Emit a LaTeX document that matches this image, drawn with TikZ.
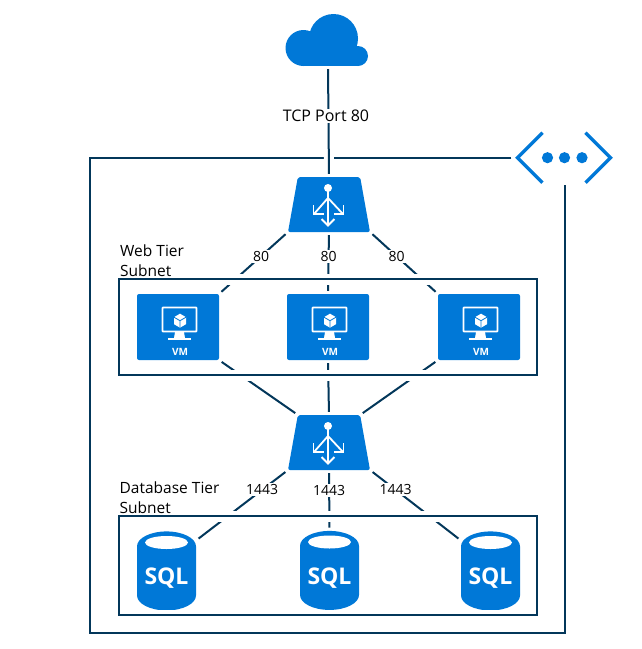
\documentclass[tikz,border=0pt]{standalone}
\usepackage{fontspec}
\setmainfont{Open Sans}
\usetikzlibrary{shapes.geometric}
\definecolor{azureblue}{HTML}{0078D7}
\definecolor{linkdark}{HTML}{03375A}
\tikzset{
  lbbox/.style={trapezium,trapezium stretches=true,trapezium left angle=81,trapezium right angle=81,
    minimum width=82pt,minimum height=55pt,inner sep=1pt,fill=azureblue,rounded corners=2pt},
  vmbox/.style={rectangle,minimum width=82pt,minimum height=66pt,inner sep=0pt,fill=azureblue,rounded corners=2pt},
  sqlbox/.style={cylinder,shape border rotate=90,aspect=.68,minimum width=59pt,minimum height=79pt,inner sep=0pt,
    fill=azureblue,text=white,font=\fontsize{23}{23}\selectfont\bfseries},
  sqlhole/.style={ellipse,fill=white,minimum width=43pt,minimum height=13pt,inner sep=0pt},
  subnetbox/.style={rectangle,draw=linkdark,line width=2pt,minimum width=418pt,inner sep=0pt,
    preaction={draw=white,line width=11pt}},
  tiertext/.style={align=left,anchor=north west,inner sep=0pt,font=\fontsize{15.5}{20}\selectfont},
  lbicon/.pic={
    \begin{scope}[white,line width=1.8pt]
      \fill (-1,-16.5) circle (4);
      \draw (-1,-16.5) -- (-1,21);
      \draw (-1,-6.5) -- (-15,9.5);
      \draw (-1,-6.5) -- (14,9.5);
      \draw (-15.5,.5) -- (-15.5,9.5) -- (-5.5,9.5);
      \draw (14.5,.5) -- (14.5,9.5) -- (4.5,9.5);
      \draw (-7.5,14.5) -- (-1,21) -- (5.5,14.5);
    \end{scope}
  },
  vmicon/.pic={
    \draw[white,line width=1.6pt,rounded corners=.5pt] (-15.5,-19.5) rectangle (18.5,4.5);
    \fill[white] (-3,5) -- (6,5) -- (7,11) -- (-4,11) -- cycle;
    \fill[white] (-10.5,10.5) rectangle (13,12.5);
    \fill[white] (2,-13.3) -- (8,-9.8) -- (8,-2.8) -- (2,.7) -- (-4,-2.8) -- (-4,-9.8) -- cycle;
    \draw[azureblue,line width=.8pt] (-4,-9.8) -- (2,-6.3) -- (8,-9.8) (2,-6.3) -- (2,.7);
    \node[text=white,inner sep=0pt,font=\fontsize{10}{10}\selectfont\bfseries] (-caption) at (2,25) {VM};
  },
  cloudicon/.pic={
    \fill[azureblue] (-24.5,8) circle (18) (5.5,-1.5) circle (24.5) (30,16) circle (10);
    \fill[azureblue] (-24.5,16) rectangle (30,26);
  },
  vneticon/.pic={
    \draw[azureblue,line width=3.4pt] (-22,-25) -- (-47,0) -- (-22,25) (21,-25) -- (46,0) -- (21,25);
    \fill[azureblue] (-17,0) circle (5.6) (0,0) circle (5.6) (17.5,0) circle (5.6);
  }
}
\begin{document}
\begin{tikzpicture}[x=1pt,y=-1pt]
      \useasboundingbox (0,0) rectangle (642,649);

      \node[minimum width=82pt,minimum height=52pt,inner sep=0pt] (cloud) at (328,40) {};
      \node[minimum width=94pt,minimum height=52pt,inner sep=0pt] (vnet) at (564.5,157.7) {};
      \node[lbbox] (lbweb) at (329,204.5) {};
      \node[lbbox] (lbdb)  at (329,442.5) {};
      \node[vmbox] (vm1) at (178,327) {};
      \node[vmbox] (vm2) at (328,327) {};
      \node[vmbox] (vm3) at (479,327) {};
      \node[sqlbox] (sql1) at (166.5,578.5) {SQL};
      \node[sqlbox] (sql2) at (329.5,578) {SQL};
      \node[sqlbox] (sql3) at (490.5,578.5) {SQL};
      \coordinate (frametl) at (90,157.7);
      \coordinate (framebl) at (90,633);
      \coordinate (framebr) at (564.5,633);

      \draw[linkdark,line width=2pt,shorten <=6pt,shorten >=1pt]
        (vnet.west) -- (frametl) -- (framebl) -- (framebr) -- (vnet.south);

      % links, the labels sit on white
      \begin{scope}[every node/.style={fill=white,inner sep=1.5pt,font=\fontsize{14}{14}\selectfont},
          every edge/.style={draw=linkdark,line width=2pt,shorten <=3pt,shorten >=3pt}]
        \path (cloud.south) edge[preaction={draw=white,line width=10pt}] node[pos=.45,xshift=-2.5pt,font=\fontsize{16}{16}\selectfont] {TCP Port 80} (lbweb.north);
        \path (lbweb.bottom left corner) edge node[pos=.39] {80} (vm1.north east);
        \path (lbweb.south) edge node[pos=.39] {80} (vm2.north);
        \path (lbweb.bottom right corner) edge node[pos=.39] {80} (vm3.north west);
        \path (vm1.south east) edge (lbdb.top left corner);
        \path (vm2.south) edge (lbdb.north);
        \path (vm3.south west) edge (lbdb.top right corner);
        \path (lbdb.bottom left corner) edge node[pos=.28] {1443} ([yshift=6pt]sql1.after top);
        \path (lbdb.south) edge node[pos=.34] {1443} (sql2.north);
        \path (lbdb.bottom right corner) edge node[pos=.28] {1443} ([yshift=6pt]sql3.before top);
      \end{scope}

      \node[subnetbox,minimum height=96pt] (websubnet) at (328,327) {};
      \node[subnetbox,minimum height=99pt] (dbsubnet) at (328,565.5) {};
      \node[tiertext] (webtext) at (120,245) {Web Tier\\Subnet};
      \node[tiertext] (dbtext) at (119.5,482) {Database Tier\\Subnet};

      % the icons go on top of the nodes
      \pic at (cloud) {cloudicon};
      \pic at (vnet) {vneticon};
      \pic at (lbweb) {lbicon};
      \pic at (lbdb) {lbicon};
      \pic (vmone) at (vm1) {vmicon};
      \pic (vmtwo) at (vm2) {vmicon};
      \pic (vmthree) at (vm3) {vmicon};
      \node[sqlhole] (hole1) at (166.5,542.5) {};
      \node[sqlhole] (hole2) at (329.5,542) {};
      \node[sqlhole] (hole3) at (490.5,542.5) {};

\end{tikzpicture}
\end{document}
